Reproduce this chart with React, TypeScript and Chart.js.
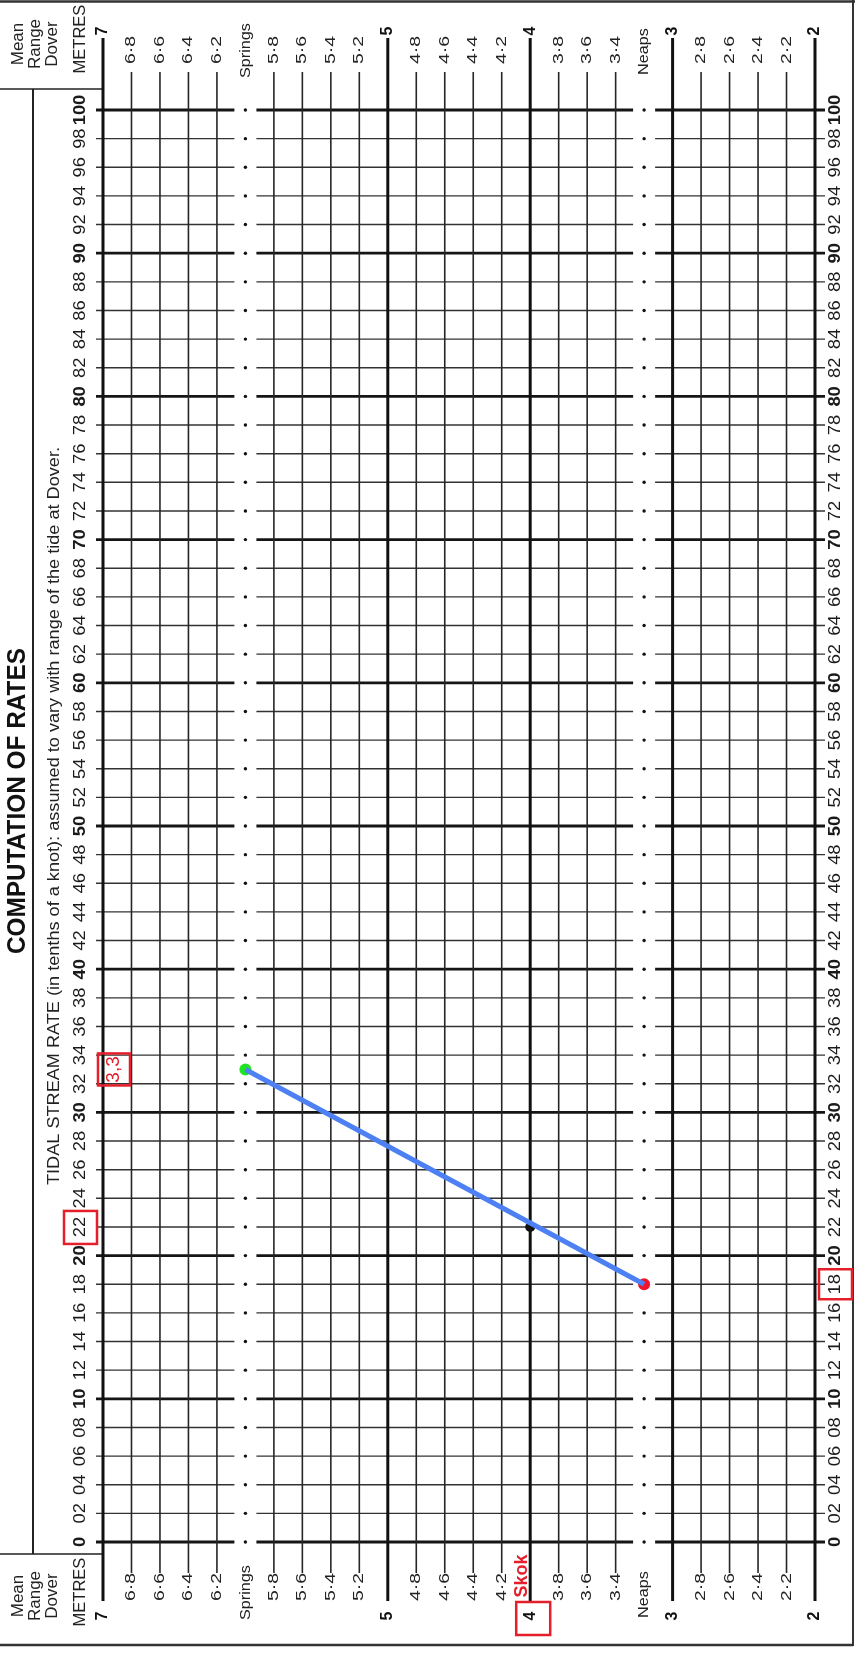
import React, { useEffect, useRef } from "react";
import { Chart, registerables } from "chart.js";

Chart.register(...registerables);

// ---- data ----
const majorMetres = [7, 5, 4, 3, 2];
const majorLabels = ["7", "5", "4", "3", "2"];
const minorMetres = [6.8, 6.6, 6.4, 6.2, 5.8, 5.6, 5.4, 5.2, 4.8, 4.6, 4.4, 4.2, 3.8, 3.6, 3.4, 2.8, 2.6, 2.4, 2.2];
const minorLabels = ["6·8", "6·6", "6·4", "6·2", "5·8", "5·6", "5·4", "5·2", "4·8", "4·6", "4·4", "4·2", "3·8", "3·6", "3·4", "2·8", "2·6", "2·4", "2·2"];
const rangeMarkerNames = ["Springs", "Neaps"];
const rangeMarkerValues = [6.0, 3.2];
const rateTicks = [0, 2, 4, 6, 8, 10, 12, 14, 16, 18, 20, 22, 24, 26, 28, 30, 32, 34, 36, 38, 40, 42, 44, 46, 48, 50, 52, 54, 56, 58, 60, 62, 64, 66, 68, 70, 72, 74, 76, 78, 80, 82, 84, 86, 88, 90, 92, 94, 96, 98, 100];
const rateTickLabels = ["0", "02", "04", "06", "08", "10", "12", "14", "16", "18", "20", "22", "24", "26", "28", "30", "32", "34", "36", "38", "40", "42", "44", "46", "48", "50", "52", "54", "56", "58", "60", "62", "64", "66", "68", "70", "72", "74", "76", "78", "80", "82", "84", "86", "88", "90", "92", "94", "96", "98", "100"];
const lineRanges = [6.0, 3.2];
const lineRates = [33, 18];
const pointRanges = [6.0, 4.0, 3.2];
const pointRates = [33, 22, 18];
const pointColors = ["#1ee61e", "#111111", "#f2142a"];
const springsLabel = "3,3";
const todayRate = 22;
const neapsRate = 18;
const todayRange = 4;

const FONT = '"Liberation Sans", Arial, sans-serif';
const RED = "#e41e2a";

function rtext(ctx: CanvasRenderingContext2D, text: string, x: number, y: number, font: string, align: CanvasTextAlign, color = "#1a1a1a", sx = 1) {
  ctx.save();
  ctx.translate(x, y);
  ctx.rotate(-Math.PI / 2);
  ctx.scale(sx, 1);
  ctx.font = font;
  ctx.textAlign = align;
  ctx.textBaseline = "middle";
  ctx.fillStyle = color;
  ctx.fillText(text, 0, 0);
  ctx.restore();
}

function line(ctx: CanvasRenderingContext2D, x1: number, y1: number, x2: number, y2: number, w: number, c: string) {
  ctx.beginPath();
  ctx.moveTo(x1, y1);
  ctx.lineTo(x2, y2);
  ctx.lineWidth = w;
  ctx.strokeStyle = c;
  ctx.stroke();
}

const gridPlugin = {
  id: "tideGrid",
  beforeDatasetsDraw(chart: any) {
    const ctx: CanvasRenderingContext2D = chart.ctx;
    const xs = chart.scales.x;
    const ys = chart.scales.y;
    const L = xs.getPixelForValue(7);
    const R = xs.getPixelForValue(2);
    const T = ys.getPixelForValue(100);
    const B = ys.getPixelForValue(0);
    const W = chart.width;
    const H = chart.height;
    ctx.save();
    ctx.fillStyle = "#ffffff";
    ctx.fillRect(0, 0, W, H);

    // outer frame
    line(ctx, 0, 1.5, W, 1.5, 2.5, "#333");
    line(ctx, W - 2, 0, W - 2, H - 7, 2, "#333");
    line(ctx, 0, H - 8, W - 2, H - 8, 2.5, "#333");
    // left boxes
    line(ctx, 0, T - 21, L, T - 21, 1.5, "#222");
    line(ctx, 0, B + 12, L, B + 12, 1.5, "#222");
    line(ctx, 33, T - 21, 33, B + 12, 2, "#222");

    const markerPx = rangeMarkerValues.map((v) => xs.getPixelForValue(v));

    // horizontal rate lines
    rateTicks.forEach((v) => {
      const yy = ys.getPixelForValue(v);
      const bold = v % 10 === 0;
      const w = bold ? 2.8 : 1.4;
      const c = bold ? "#151515" : "#333";
      const segs = [L - 7, markerPx[0] - 11, markerPx[0] + 11, markerPx[1] - 11, markerPx[1] + 11, R + 10];
      for (let i = 0; i < segs.length; i += 2) line(ctx, segs[i], yy, segs[i + 1], yy, w, c);
      markerPx.forEach((mx) => {
        ctx.beginPath();
        ctx.arc(mx, yy, 1.7, 0, Math.PI * 2);
        ctx.fillStyle = "#111";
        ctx.fill();
      });
    });

    // vertical metre lines
    minorMetres.forEach((m) => {
      const xx = xs.getPixelForValue(m);
      line(ctx, xx, T - 38, xx, B + 31, 1.6, "#262626");
    });
    majorMetres.forEach((m) => {
      const xx = xs.getPixelForValue(m);
      line(ctx, xx, T - 72, xx, B + 59, 3, "#111");
    });

    // metre labels
    ctx.font = `14.5px ${FONT}`;
    const sxMinor = 28 / ctx.measureText("6·8").width;
    minorMetres.forEach((m, i) => {
      const xx = xs.getPixelForValue(m);
      rtext(ctx, minorLabels[i], xx, T - 46, `14.5px ${FONT}`, "left", "#222", sxMinor);
      rtext(ctx, minorLabels[i], xx, B + 31, `14.5px ${FONT}`, "right", "#222", sxMinor);
    });
    majorMetres.forEach((m, i) => {
      const xx = xs.getPixelForValue(m);
      rtext(ctx, majorLabels[i], xx, 31, `bold 16px ${FONT}`, "center", "#111");
      rtext(ctx, majorLabels[i], xx, B + 74, `bold 16px ${FONT}`, "center", "#111");
    });
    rangeMarkerValues.forEach((m, i) => {
      const xx = xs.getPixelForValue(m);
      rtext(ctx, rangeMarkerNames[i], xx, i === 0 ? 78 : 75, `15px ${FONT}`, "left", "#222", 1.08);
      rtext(ctx, rangeMarkerNames[i], xx, B + (i === 0 ? 78 : 76), `15px ${FONT}`, "left", "#222", 1.08);
    });

    // rate labels
    rateTicks.forEach((v, i) => {
      const yy = ys.getPixelForValue(v);
      const f = v % 10 === 0 ? `bold 17px ${FONT}` : `17px ${FONT}`;
      rtext(ctx, rateTickLabels[i], 80, yy, f, "center", "#1a1a1a", 1.08);
      rtext(ctx, rateTickLabels[i], 835, yy, f, "center", "#1a1a1a", 1.08);
    });

    // corner texts
    const cornerWords = ["Mean", "Range", "Dover"];
    const cornerX = [18, 35, 52];
    cornerWords.forEach((wd, i) => {
      rtext(ctx, wd, cornerX[i], 44, `17px ${FONT}`, "center", "#222");
      rtext(ctx, wd, cornerX[i], 1596, `17px ${FONT}`, "center", "#222");
    });
    rtext(ctx, "METRES", 80, 39, `16.5px ${FONT}`, "center", "#222");
    rtext(ctx, "METRES", 80, 1592, `16.5px ${FONT}`, "center", "#222");

    // title and subtitle
    ctx.font = `bold 25px ${FONT}`;
    const tw = ctx.measureText("COMPUTATION OF RATES").width;
    rtext(ctx, "COMPUTATION OF RATES", 18, 801, `bold 25px ${FONT}`, "center", "#111", 306 / tw);
    const sub = "TIDAL STREAM RATE (in tenths of a knot): assumed to vary with range of the tide at Dover.";
    ctx.font = `16px ${FONT}`;
    const sw = ctx.measureText(sub).width;
    rtext(ctx, sub, 55, 1185, `16px ${FONT}`, "left", "#222", 738 / sw);
    ctx.restore();
  },
  afterDatasetsDraw(chart: any) {
    const ctx: CanvasRenderingContext2D = chart.ctx;
    const xs = chart.scales.x;
    const ys = chart.scales.y;
    const B = ys.getPixelForValue(0);
    ctx.save();
    ctx.strokeStyle = RED;
    ctx.lineWidth = 2.5;
    // 3,3 label box
    const ySpr = ys.getPixelForValue(lineRates[0]);
    ctx.strokeRect(98, ySpr - 16, 32, 32);
    rtext(ctx, springsLabel, 114, ySpr, `19px ${FONT}`, "center", RED);
    // 22 box
    const yT = ys.getPixelForValue(todayRate);
    ctx.strokeRect(64, yT - 16, 33, 33);
    // 18 box
    const yN = ys.getPixelForValue(neapsRate);
    ctx.strokeRect(819, yN - 15, 33, 30);
    // 4 box + Skok
    const x4 = xs.getPixelForValue(todayRange);
    ctx.strokeRect(x4 - 14, B + 60, 34, 33);
    rtext(ctx, "Skok", x4 - 8, B + 34, `bold 18px ${FONT}`, "center", RED);
    ctx.restore();
  },
};

export default function App() {
  const ref = useRef<HTMLCanvasElement | null>(null);
  useEffect(() => {
    if (!ref.current) return;
    const chart = new Chart(ref.current, {
      type: "scatter",
      data: {
        datasets: [
          {
            data: lineRanges.map((x, i) => ({ x, y: lineRates[i] })),
            showLine: true,
            borderColor: "#4d80f2",
            borderWidth: 5,
            pointRadius: 0,
          } as any,
          {
            data: pointRanges.map((x, i) => ({ x, y: pointRates[i] })),
            showLine: false,
            pointRadius: [6, 5, 6],
            pointBackgroundColor: pointColors,
            pointBorderWidth: 0,
            pointBorderColor: pointColors,
          } as any,
        ],
      },
      options: {
        responsive: false,
        maintainAspectRatio: false,
        animation: false,
        devicePixelRatio: 1,
        layout: { padding: { left: 103, right: 40, top: 110, bottom: 111 } },
        plugins: { legend: { display: false }, tooltip: { enabled: false } },
        scales: {
          x: { type: "linear", min: 2, max: 7, reverse: true, display: false },
          y: { type: "linear", min: 0, max: 100, display: false },
        },
      },
      plugins: [gridPlugin],
    });
    return () => chart.destroy();
  }, []);
  return (
    <div style={{ position: "absolute", left: 0, top: 0, width: 855, height: 1653 }}>
      <canvas ref={ref} width={855} height={1653} style={{ display: "block" }} />
    </div>
  );
}
